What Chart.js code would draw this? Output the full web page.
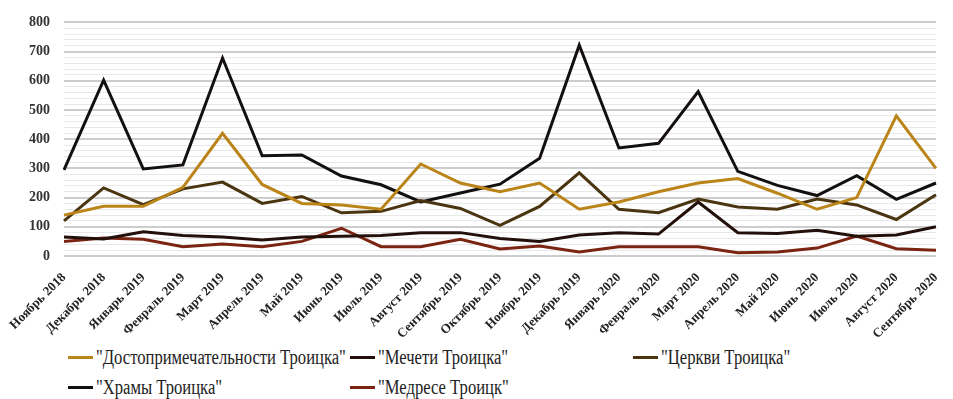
<!DOCTYPE html>
<html>
<head>
<meta charset="utf-8">
<script src="https://cdn.jsdelivr.net/npm/chart.js@4"></script>
<style>
    body { margin:0; background:#fff; }
    #wrap { position:relative; width:953px; height:399px; overflow:hidden; }
    #chart { position:absolute; left:0; top:0; }
    .lg { position:absolute; height:24px; line-height:24px; white-space:nowrap; font-family:"Liberation Serif", serif; font-size:20px; color:#222; }
    .lg i { position:absolute; left:0; top:11px; width:25px; height:3px; }
    .lg span { position:absolute; display:inline-block; left:28px; top:0; transform:scaleX(0.83); transform-origin:left center; }
</style>
</head>
<body>
<div id="wrap">
    <canvas id="chart" width="953" height="340"></canvas>
</div>
<script>
const months = ["Ноябрь 2018", "Декабрь 2018", "Январь 2019", "Февраль 2019", "Март 2019", "Апрель 2019", "Май 2019", "Июнь 2019", "Июль 2019", "Август 2019", "Сентябрь 2019", "Октябрь 2019", "Ноябрь 2019", "Декабрь 2019", "Январь 2020", "Февраль 2020", "Март 2020", "Апрель 2020", "Май 2020", "Июнь 2020", "Июль 2020", "Август 2020", "Сентябрь 2020"];

const dostop  = [140, 170, 170, 235, 420, 245, 180, 175, 160, 315, 250, 220, 250, 160, 185, 220, 250, 265, 215, 160, 200, 480, 300];
const mecheti = [65, 58, 83, 70, 65, 55, 65, 68, 70, 80, 80, 60, 50, 72, 80, 75, 185, 80, 77, 88, 68, 72, 100];
const tserkvi = [120, 233, 176, 230, 253, 180, 204, 148, 153, 190, 163, 105, 170, 285, 160, 148, 195, 168, 160, 195, 175, 125, 210];
const khramy  = [295, 602, 298, 312, 678, 343, 346, 274, 244, 185, 216, 246, 335, 722, 370, 386, 563, 290, 242, 207, 275, 194, 250];
const medrese = [50, 62, 57, 32, 41, 32, 50, 95, 32, 32, 57, 24, 34, 14, 32, 32, 32, 11, 14, 27, 68, 25, 20];

const yTicks = [0, 100, 200, 300, 400, 500, 600, 700, 800];

function line(label, data, color){
    return {
        label:label,
        data:data,
        borderColor:color,
        backgroundColor:color,
        borderWidth:3,
        pointRadius:0,
        tension:0,
        fill:false
    };
}

let datasets = [
    line('"Достопримечательности Троицка"', dostop, "#bb8419"),
    line('"Мечети Троицка"', mecheti, "#24100a"),
    line('"Церкви Троицка"', tserkvi, "#4a3510"),
    line('"Храмы Троицка"', khramy, "#141010"),
    line('"Медресе Троицк"', medrese, "#7b2412")
];

let chart = new Chart(document.getElementById("chart"), {
    type:"line",
    data:{ labels:months, datasets:datasets },
    options:{
        responsive:false,
        animation:false,
        layout:{ padding:{ top:14, right:3 } },
        plugins:{ legend:{ display:false }, tooltip:{ enabled:false } },
        scales:{
            x:{
                grid:{ display:false },
                border:{ display:false },
                ticks:{
                    autoSkip:false,
                    maxRotation:45,
                    minRotation:45,
                    padding:6,
                    color:"#222",
                    font:{ family:"Liberation Serif", size:13, weight:"bold" }
                },
                afterFit:function(s){ s.height = 84; }
            },
            y:{
                min:yTicks[0],
                max:yTicks[yTicks.length-1],
                border:{ display:false },
                grid:{
                    drawTicks:false,
                    lineWidth:function(c){ return c.tick.value % 100 === 0 ? 2 : 1; },
                    color:function(c){ return c.tick.value % 100 === 0 ? "#cdcdcd" : "#e8e8e8"; }
                },
                ticks:{
                    stepSize:20,
                    autoSkip:false,
                    padding:14,
                    color:"#333",
                    font:{ family:"Liberation Serif", size:14, weight:"bold" },
                    callback:function(v){ return yTicks.indexOf(v) >= 0 ? v : ""; }
                },
                afterFit:function(s){ s.width = 64; }
            }
        }
    }
});

// legend laid out in columns like the original
let legendPos = [[68, 345], [350, 345], [633, 345], [68, 375], [350, 375]];
let wrap = document.getElementById("wrap");
for(let i=0; i<datasets.length; i++){
    let d = document.createElement("div");
    d.className = "lg";
    d.style.left = legendPos[i][0] + "px";
    d.style.top = legendPos[i][1] + "px";
    d.innerHTML = '<i style="background:' + datasets[i].borderColor + '"></i><span></span>';
    d.querySelector("span").textContent = datasets[i].label;
    wrap.appendChild(d);
}
</script>
</body>
</html>
